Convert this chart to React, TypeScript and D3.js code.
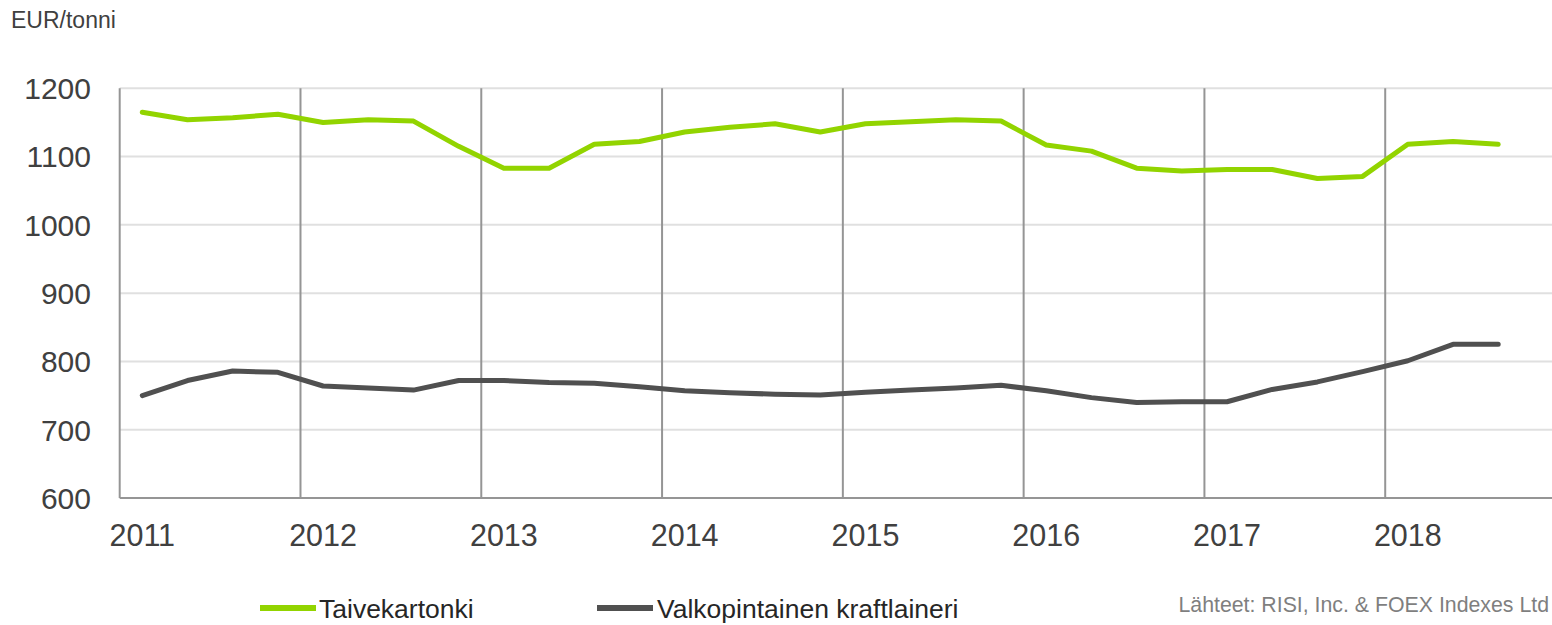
import React from "react";
import * as d3 from "d3";

// quarterly prices, 2011 Q1 .. 2018 Q3
const years = [2011, 2012, 2013, 2014, 2015, 2016, 2017, 2018];
const yTicks = [600, 700, 800, 900, 1000, 1100, 1200];
const taivekartonki = [
  1165, 1154, 1157, 1162, 1150, 1154, 1152, 1115, 1083, 1083, 1118, 1122,
  1136, 1143, 1148, 1136, 1148, 1151, 1154, 1152, 1117, 1108, 1083, 1079,
  1081, 1081, 1068, 1071, 1118, 1122, 1118,
];
const valkopintainen = [
  750, 772, 786, 784, 764, 761, 758, 772, 772, 769, 768, 763, 757, 754, 752,
  751, 755, 758, 761, 765, 757, 747, 740, 741, 741, 759, 770, 785, 801, 825,
  825,
];
const seriesNames = ["Taivekartonki", "Valkopintainen kraftlaineri"];
const seriesColors = ["#92d400", "#505050"];

const quarters: string[] = [];
years.forEach((y) => [1, 2, 3, 4].forEach((q) => quarters.push(y + "Q" + q)));

const W = 1552;
const H = 625;
const left = 119.7;
const right = 1566;
const top = 88.3;
const bottom = 498;
const font = "'Liberation Sans', Arial, sans-serif";

export default function App() {
  const x = d3.scaleBand<string>().domain(quarters).range([left, right]);
  const y = d3.scaleLinear().domain([600, 1200]).range([bottom, top]);
  const cx = (i: number) => (x(quarters[i]) as number) + x.bandwidth() / 2;

  const line = d3
    .line<number>()
    .x((d, i) => cx(i))
    .y((d) => y(d));

  const series = [taivekartonki, valkopintainen];

  return (
    <div style={{ position: "absolute", left: 0, top: 0 }}>
      <svg width={W} height={H} style={{ display: "block", fontFamily: font }}>
        <rect width={W} height={H} fill="#fff" />
        <text x={11} y={27.7} fontSize={23} fill="#404040">
          EUR/tonni
        </text>

        {yTicks.map((t) => (
          <g key={t}>
            {t > 600 && (
              <line x1={left} x2={right} y1={y(t)} y2={y(t)} stroke="#e0e0e0" strokeWidth={2} />
            )}
            <text x={91} y={y(t)} dy="0.36em" textAnchor="end" fontSize={30} fill="#404040">
              {t}
            </text>
          </g>
        ))}

        {years.map((yr) => {
          const xv = x(yr + "Q1") as number;
          return (
            <g key={yr}>
              <line x1={xv} x2={xv} y1={top} y2={bottom} stroke="#959595" strokeWidth={2} />
              <text x={xv + x.bandwidth() / 2} y={545.7} textAnchor="middle" fontSize={30.5} fill="#404040">
                {yr}
              </text>
            </g>
          );
        })}
        <line x1={left} x2={right} y1={bottom} y2={bottom} stroke="#959595" strokeWidth={2} />

        {series.map((s, k) => (
          <path
            key={k}
            d={line(s) as string}
            fill="none"
            stroke={seriesColors[k]}
            strokeWidth={5}
            strokeLinecap="round"
            strokeLinejoin="round"
          />
        ))}

        {/* legend */}
        {[
          [260, 316, 319],
          [597, 653, 657],
        ].map(([a, b, t], k) => (
          <g key={k}>
            <line x1={a} x2={b} y1={608} y2={608} stroke={seriesColors[k]} strokeWidth={6} />
            <text x={t} y={608} dy="0.36em" fontSize={26.5} fill="#262626">
              {seriesNames[k]}
            </text>
          </g>
        ))}

        <text x={1549} y={611.7} textAnchor="end" fontSize={21.3} fill="#7f7f7f">
          Lähteet: RISI, Inc. &amp; FOEX Indexes Ltd
        </text>
      </svg>
    </div>
  );
}
